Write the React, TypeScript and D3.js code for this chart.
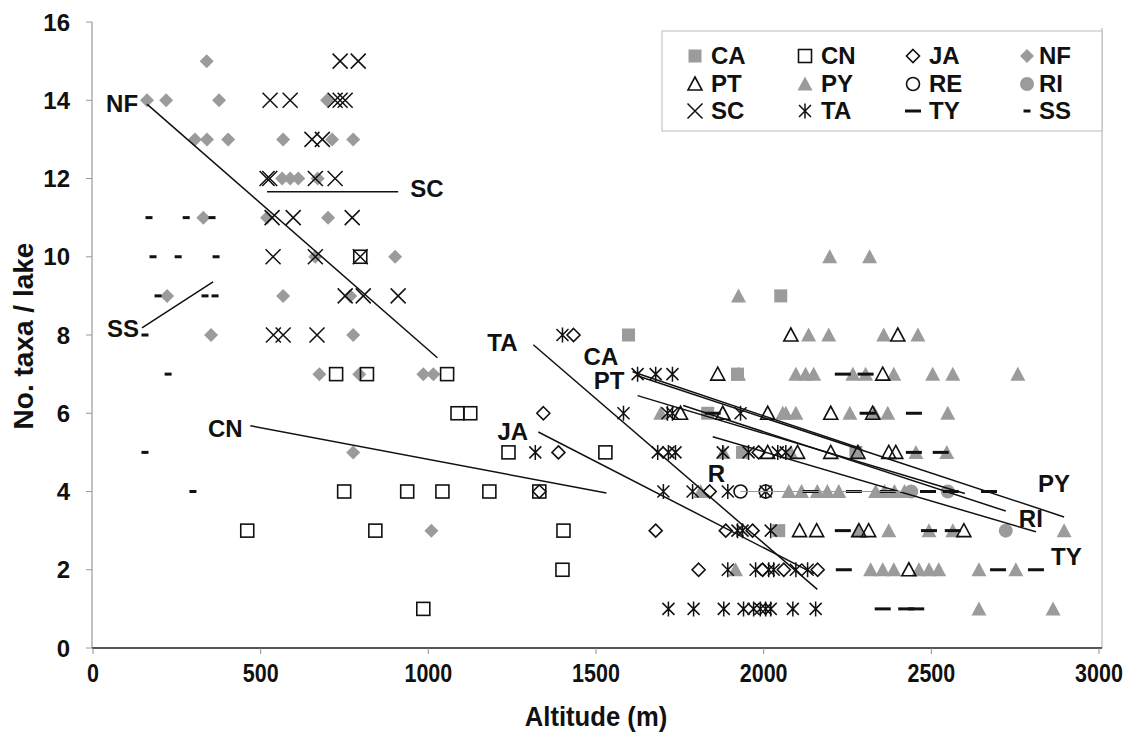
import React from 'react';
import * as d3 from 'd3';

type P = [number, number]; // [altitude (m), no. taxa]

// ---------- data ----------
const CA: P[] = [[2051, 9], [1597, 8], [1922, 7], [1833, 6], [1937, 5], [2275, 5], [2045, 3]];
const CN: P[] = [[797, 10], [725, 7], [817, 7], [1056, 7], [1087, 6], [1125, 6], [1239, 5], [1528, 5],
  [749, 4], [937, 4], [1042, 4], [1182, 4], [1331, 4], [460, 3], [842, 3], [1403, 3], [1400, 2], [985, 1]];
const JA: P[] = [[1433, 8], [1343, 6], [1388, 5], [1985, 5], [1331, 4], [1839, 4], [1678, 3], [1887, 3], [1967, 3],
  [1806, 2], [1997, 2], [2060, 2], [2161, 2]];
const NF: P[] = [[339, 15], [161, 14], [218, 14], [376, 14], [698, 14], [304, 13], [340, 13], [403, 13], [567, 13],
  [713, 13], [776, 13], [564, 12], [588, 12], [612, 12], [670, 12], [329, 11], [519, 11], [701, 11], [663, 10],
  [901, 10], [221, 9], [567, 9], [767, 9], [352, 8], [776, 8], [675, 7], [794, 7], [985, 7], [1015, 7], [776, 5], [1009, 3]];
const PT: P[] = [[2081, 8], [2400, 8], [1863, 7], [2355, 7], [1752, 6], [1878, 6], [2012, 6], [2200, 6], [2325, 6],
  [2012, 5], [2101, 5], [2200, 5], [2281, 5], [2373, 5], [2394, 5], [2107, 3], [2158, 3], [2284, 3], [2313, 3],
  [2597, 3], [2433, 2]];
const PY: P[] = [[2197, 10], [2316, 10], [1925, 9], [2134, 8], [2194, 8], [2358, 8], [2460, 8],
  [1925, 7], [2096, 7], [2125, 7], [2149, 7], [2266, 7], [2304, 7], [2388, 7], [2504, 7], [2564, 7], [2758, 7],
  [1693, 6], [2057, 6], [2066, 6], [2096, 6], [2257, 6], [2330, 6], [2370, 6], [2549, 6],
  [1880, 5], [2081, 5], [2454, 5], [2546, 5],
  [1812, 4], [2075, 4], [2113, 4], [2160, 4], [2190, 4], [2224, 4], [2334, 4], [2360, 4], [2390, 4], [2420, 4],
  [2281, 3], [2373, 3], [2493, 3], [2564, 3], [2896, 3],
  [1916, 2], [2319, 2], [2355, 2], [2388, 2], [2463, 2], [2493, 2], [2522, 2], [2642, 2], [2752, 2],
  [2642, 1], [2863, 1]];
const RE: P[] = [[1931, 4], [2006, 4]];
const RI: P[] = [[2440, 4], [2549, 4], [2722, 3]];
const SC: P[] = [[737, 15], [791, 15], [528, 14], [588, 14], [722, 14], [737, 14], [752, 14], [653, 13], [684, 13],
  [519, 12], [527, 12], [663, 12], [722, 12], [534, 11], [597, 11], [773, 11], [537, 10], [663, 10], [797, 10],
  [752, 9], [806, 9], [910, 9], [538, 8], [567, 8], [668, 8]];
const TA: P[] = [[1400, 8], [1624, 7], [1678, 7], [1728, 7], [1582, 6], [1713, 6], [1728, 6], [1931, 6],
  [1319, 5], [1684, 5], [1716, 5], [1737, 5], [1878, 5], [1955, 5], [2042, 5], [2066, 5],
  [1701, 4], [1788, 4], [1893, 4], [2006, 4], [1922, 3], [1937, 3], [2021, 3],
  [1893, 2], [1976, 2], [2015, 2], [2030, 2], [2096, 2], [2131, 2],
  [1716, 1], [1791, 1], [1881, 1], [1940, 1], [1970, 1], [1990, 1], [2006, 1], [2021, 1], [2087, 1], [2155, 1]];
const TY: P[] = [[2236, 7], [2304, 7], [1848, 6], [2310, 6], [2448, 6], [2448, 5], [2528, 5],
  [2140, 4], [2269, 4], [2370, 4], [2490, 4], [2558, 4], [2672, 4], [2236, 3], [2493, 3], [2564, 3],
  [2239, 2], [2699, 2], [2812, 2], [2355, 1], [2425, 1], [2455, 1]];
const SS: P[] = [[167, 11], [278, 11], [355, 11], [179, 10], [254, 10], [367, 10], [194, 9], [334, 9], [364, 9],
  [155, 8], [224, 7], [155, 5], [298, 4]];

// trend lines: [start, end]
const TREND_NF: [P, P] = [[161, 13.9], [1027, 7.42]];
const TREND_SC: [P, P] = [[519, 11.66], [910, 11.66]];
const TREND_SS: [P, P] = [[146, 8.18], [358, 9.36]];
const TREND_CN: [P, P] = [[469, 5.68], [1531, 3.96]];
const TREND_TA: [P, P] = [[1313, 7.75], [2160, 1.5]];
const TREND_JA: [P, P] = [[1328, 5.52], [2150, 1.9]];
const TREND_CA: [P, P] = [[1609, 7.06], [2290, 5.1]];
const TREND_PY: [P, P] = [[1625, 6.95], [2896, 3.35]];
const TREND_PT: [P, P] = [[1624, 6.45], [2600, 3.95]];
const TREND_RI: [P, P] = [[1760, 6.2], [2722, 3.5]];
const TREND_TY: [P, P] = [[1848, 5.4], [2812, 2.97]];
const TREND_RE: [P, P] = [[1931, 4.0], [2450, 4.0]];

// line labels: [text, altitude, value at baseline]
const LINE_LABELS: [string, number, number][] = [
  ['NF', 39, 13.71], ['SC', 946, 11.53], ['SS', 42, 7.95], ['CN', 343, 5.4], ['TA', 1176, 7.6],
  ['CA', 1463, 7.24], ['PT', 1493, 6.62], ['JA', 1206, 5.32], ['R', 1833, 4.25], ['PY', 2818, 3.99],
  ['RI', 2761, 3.09], ['TY', 2857, 2.12],
];

const X_TICKS = [0, 500, 1000, 1500, 2000, 2500, 3000];
const Y_TICKS = [0, 2, 4, 6, 8, 10, 12, 14, 16];
const LEGEND_ORDER = ['CA', 'CN', 'JA', 'NF', 'PT', 'PY', 'RE', 'RI', 'SC', 'TA', 'TY', 'SS'];

// ---------- styling ----------
const GRAY = '#9b9b9b';
const INK = '#111';
const SERIES: Record<string, { data: P[]; marker: string }> = {
  CA: { data: CA, marker: 'squareGray' },
  CN: { data: CN, marker: 'squareOpen' },
  JA: { data: JA, marker: 'diamondOpen' },
  NF: { data: NF, marker: 'diamondGray' },
  PT: { data: PT, marker: 'triOpen' },
  PY: { data: PY, marker: 'triGray' },
  RE: { data: RE, marker: 'circleOpen' },
  RI: { data: RI, marker: 'circleGray' },
  SC: { data: SC, marker: 'x' },
  TA: { data: TA, marker: 'star' },
  TY: { data: TY, marker: 'dashLong' },
  SS: { data: SS, marker: 'dashShort' },
};
const DRAW_ORDER = ['NF', 'PY', 'CA', 'RI', 'CN', 'JA', 'PT', 'RE', 'SC', 'TA', 'TY', 'SS'];

const W = 1135, H = 736;
const xS = d3.scaleLinear().domain([0, 3000]).range([93, 1099]);
const yS = d3.scaleLinear().domain([0, 16]).range([648, 22]);

function Marker({ type, cx, cy }: { type: string; cx: number; cy: number }) {
  const sw = 1.6;
  switch (type) {
    case 'diamondGray':
      return <path d={`M${cx},${cy - 7}L${cx + 7},${cy}L${cx},${cy + 7}L${cx - 7},${cy}Z`} fill={GRAY} />;
    case 'diamondOpen':
      return <path d={`M${cx},${cy - 6.5}L${cx + 6.5},${cy}L${cx},${cy + 6.5}L${cx - 6.5},${cy}Z`} fill="none" stroke={INK} strokeWidth={sw} />;
    case 'squareOpen':
      return <rect x={cx - 6.5} y={cy - 6.5} width={13} height={13} fill="none" stroke={INK} strokeWidth={sw} />;
    case 'squareGray':
      return <rect x={cx - 6.5} y={cy - 6.5} width={13} height={13} fill={GRAY} />;
    case 'triOpen':
      return <path d={`M${cx},${cy - 7}L${cx + 7},${cy + 6}L${cx - 7},${cy + 6}Z`} fill="none" stroke={INK} strokeWidth={sw} />;
    case 'triGray':
      return <path d={`M${cx},${cy - 7.5}L${cx + 7.5},${cy + 6.5}L${cx - 7.5},${cy + 6.5}Z`} fill={GRAY} />;
    case 'circleOpen':
      return <circle cx={cx} cy={cy} r={6.5} fill="none" stroke={INK} strokeWidth={sw} />;
    case 'circleGray':
      return <circle cx={cx} cy={cy} r={7} fill={GRAY} />;
    case 'x':
      return <path d={`M${cx - 7.5},${cy - 7.5}L${cx + 7.5},${cy + 7.5}M${cx - 7.5},${cy + 7.5}L${cx + 7.5},${cy - 7.5}`} stroke={INK} strokeWidth={1.5} fill="none" />;
    case 'star':
      return <path d={`M${cx - 6},${cy - 6}L${cx + 6},${cy + 6}M${cx - 6},${cy + 6}L${cx + 6},${cy - 6}M${cx},${cy - 7.5}L${cx},${cy + 7.5}`} stroke={INK} strokeWidth={1.5} fill="none" />;
    case 'dashLong':
      return <line x1={cx - 8} x2={cx + 8} y1={cy} y2={cy} stroke={INK} strokeWidth={3} />;
    case 'dashShort':
      return <line x1={cx - 3.5} x2={cx + 3.5} y1={cy} y2={cy} stroke={INK} strokeWidth={3} />;
    default:
      return null;
  }
}

const TRENDS: { seg: [P, P]; thin?: boolean }[] = [
  { seg: TREND_NF }, { seg: TREND_SC }, { seg: TREND_SS }, { seg: TREND_CN }, { seg: TREND_TA }, { seg: TREND_JA },
  { seg: TREND_CA }, { seg: TREND_PY }, { seg: TREND_PT }, { seg: TREND_RI }, { seg: TREND_TY }, { seg: TREND_RE, thin: true },
];

export default function App() {
  const line = d3.line<P>().x((d) => xS(d[0])).y((d) => yS(d[1]));
  const boldFont = '"Liberation Sans", Arial, sans-serif';

  const legendX = 662, legendY = 31, legendW = 440, legendH = 100;
  const colMarker = [695, 805, 913, 1027];
  const colText = [711, 821, 929, 1039];
  const rowBase = [64, 92, 119];

  return (
    <svg width={W} height={H} style={{ position: 'absolute', left: 0, top: 0, background: '#fff' }}>
      <rect x={0} y={0} width={W} height={H} fill="#fff" />
      {/* plot frame */}
      <line x1={xS(3000) + 3} x2={xS(3000) + 3} y1={28} y2={yS(0)} stroke="#aaa" strokeWidth={1} />
      <line x1={xS(0) - 1} x2={xS(0) - 1} y1={yS(16)} y2={yS(0)} stroke="#999" strokeWidth={1.2} />
      <line x1={xS(0) - 1} x2={xS(3000) + 3} y1={yS(0)} y2={yS(0)} stroke="#555" strokeWidth={1.8} />
      {Y_TICKS.map((t) => (
        <g key={'yt' + t}>
          <line x1={xS(0) - 7} x2={xS(0) - 1} y1={yS(t)} y2={yS(t)} stroke="#999" strokeWidth={1} />
          <text x={70} y={yS(t)} dy="0.36em" textAnchor="end" fontFamily={boldFont} fontWeight="bold" fontSize={24} fill="#111">{t}</text>
        </g>
      ))}
      {X_TICKS.map((t) => (
        <g key={'xt' + t} transform={`translate(${xS(t)},682) scale(0.86,1)`}>
          <line x1={0} x2={0} y1={-34} y2={-28} stroke="#888" strokeWidth={1} />
          <text x={0} y={0} textAnchor="middle" fontFamily={boldFont} fontWeight="bold" fontSize={25} fill="#111">{t}</text>
        </g>
      ))}
      <text transform={`translate(${(xS(0) + xS(3000)) / 2},726) scale(0.95,1)`} textAnchor="middle" fontFamily={boldFont} fontWeight="bold" fontSize={27} fill="#111">Altitude (m)</text>
      <text transform={`translate(33,336) rotate(-90)`} textAnchor="middle" fontFamily={boldFont} fontWeight="bold" fontSize={28} fill="#111">No. taxa / lake</text>

      {/* points */}
      {DRAW_ORDER.map((k) => (
        <g key={k}>
          {SERIES[k].data.map((d, i) => (
            <Marker key={i} type={SERIES[k].marker} cx={xS(d[0])} cy={yS(d[1])} />
          ))}
        </g>
      ))}

      {/* trend lines */}
      {TRENDS.map((t, i) => (
        <path key={'tr' + i} d={line(t.seg) || ''} fill="none" stroke={t.thin ? '#999' : '#111'} strokeWidth={t.thin ? 1 : 1.5} />
      ))}

      {/* line labels */}
      {LINE_LABELS.map(([s, a, v]) => (
        <text key={'ll' + s} x={xS(a)} y={yS(v)} fontFamily={boldFont} fontWeight="bold" fontSize={24} fill="#111">{s}</text>
      ))}

      {/* legend */}
      <rect x={legendX} y={legendY} width={legendW} height={legendH} fill="#fff" stroke="#bbb" strokeWidth={1} />
      {LEGEND_ORDER.map((k, i) => {
        const c = i % 4, r = Math.floor(i / 4);
        return (
          <g key={'lg' + k}>
            <Marker type={SERIES[k].marker} cx={colMarker[c]} cy={rowBase[r] - 8} />
            <text x={colText[c]} y={rowBase[r]} fontFamily={boldFont} fontWeight="bold" fontSize={24} fill="#111">{k}</text>
          </g>
        );
      })}
    </svg>
  );
}
